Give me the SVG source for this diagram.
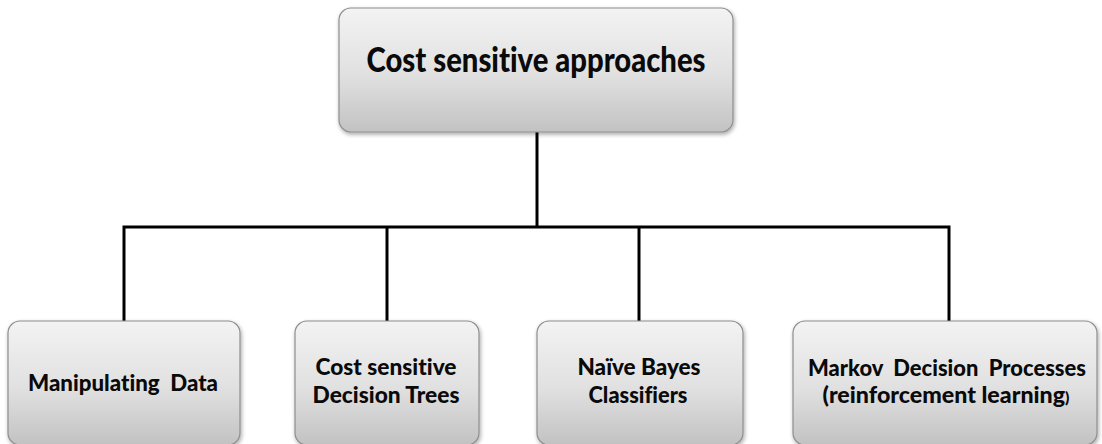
<svg xmlns="http://www.w3.org/2000/svg" width="1102" height="444" viewBox="0 0 1102 444">
  <defs>
    <linearGradient id="boxFill" x1="0" y1="0" x2="0" y2="1">
      <stop offset="0" stop-color="#f3f3f3"/>
      <stop offset="0.55" stop-color="#e0e0e0"/>
      <stop offset="1" stop-color="#c2c2c2"/>
    </linearGradient>
    <filter id="shadow" x="-5%" y="-5%" width="115%" height="120%">
      <feGaussianBlur in="SourceAlpha" stdDeviation="2"/>
      <feOffset dx="1" dy="2" result="b"/>
      <feComponentTransfer><feFuncA type="linear" slope="0.35"/></feComponentTransfer>
      <feMerge><feMergeNode/><feMergeNode in="SourceGraphic"/></feMerge>
    </filter>
  </defs>
  <style>
    .box { fill: url(#boxFill); stroke: #8e8e8e; stroke-width: 1.2; filter: url(#shadow); }
    .label { font-family: Lato, "Liberation Sans", sans-serif; font-weight: 900; fill: #0a0a0a; text-anchor: middle; font-variant-ligatures: none; }
    .small { font-size: 22px; }
    .big { font-size: 35px; }
    .wire { stroke: #000; stroke-width: 3; fill: none; }
  </style>
  <rect width="1102" height="444" fill="#fff"/>

  <g id="connectors">
    <path class="wire" d="M537 132 V227"/>
    <path class="wire" d="M124 321 V227 H949 V321"/>
    <path class="wire" d="M387 227 V321"/>
    <path class="wire" d="M639 227 V321"/>
  </g>

  <g id="root">
    <rect class="box" x="339" y="8" width="394" height="124" rx="12"/>
    <text class="label big" x="536" y="72" textLength="339" lengthAdjust="spacingAndGlyphs">Cost sensitive approaches</text>
  </g>

  <g id="manipulating-data">
    <rect class="box" x="8" y="321" width="232" height="124" rx="12"/>
    <text class="label small" x="123" y="391" textLength="190" lengthAdjust="spacingAndGlyphs" xml:space="preserve">Manipulating  Data</text>
  </g>

  <g id="decision-trees">
    <rect class="box" x="295" y="321" width="184" height="124" rx="12"/>
    <text class="label small" x="386" y="375" textLength="141" lengthAdjust="spacingAndGlyphs">Cost sensitive</text>
    <text class="label small" x="386" y="403" textLength="147" lengthAdjust="spacingAndGlyphs">Decision Trees</text>
  </g>

  <g id="naive-bayes">
    <rect class="box" x="537" y="321" width="206" height="124" rx="12"/>
    <text class="label small" x="639" y="375" textLength="123" lengthAdjust="spacingAndGlyphs">Naïve Bayes</text>
    <text class="label small" x="638" y="403" textLength="99" lengthAdjust="spacingAndGlyphs">Classifiers</text>
  </g>

  <g id="markov">
    <rect class="box" x="793" y="321" width="304" height="124" rx="12"/>
    <text class="label small" x="947" y="376" textLength="278" lengthAdjust="spacingAndGlyphs" xml:space="preserve">Markov  Decision  Processes</text>
    <text class="label small" x="946" y="403" textLength="247" lengthAdjust="spacingAndGlyphs">(reinforcement learning<tspan font-size="15px">)</tspan></text>
  </g>
</svg>
